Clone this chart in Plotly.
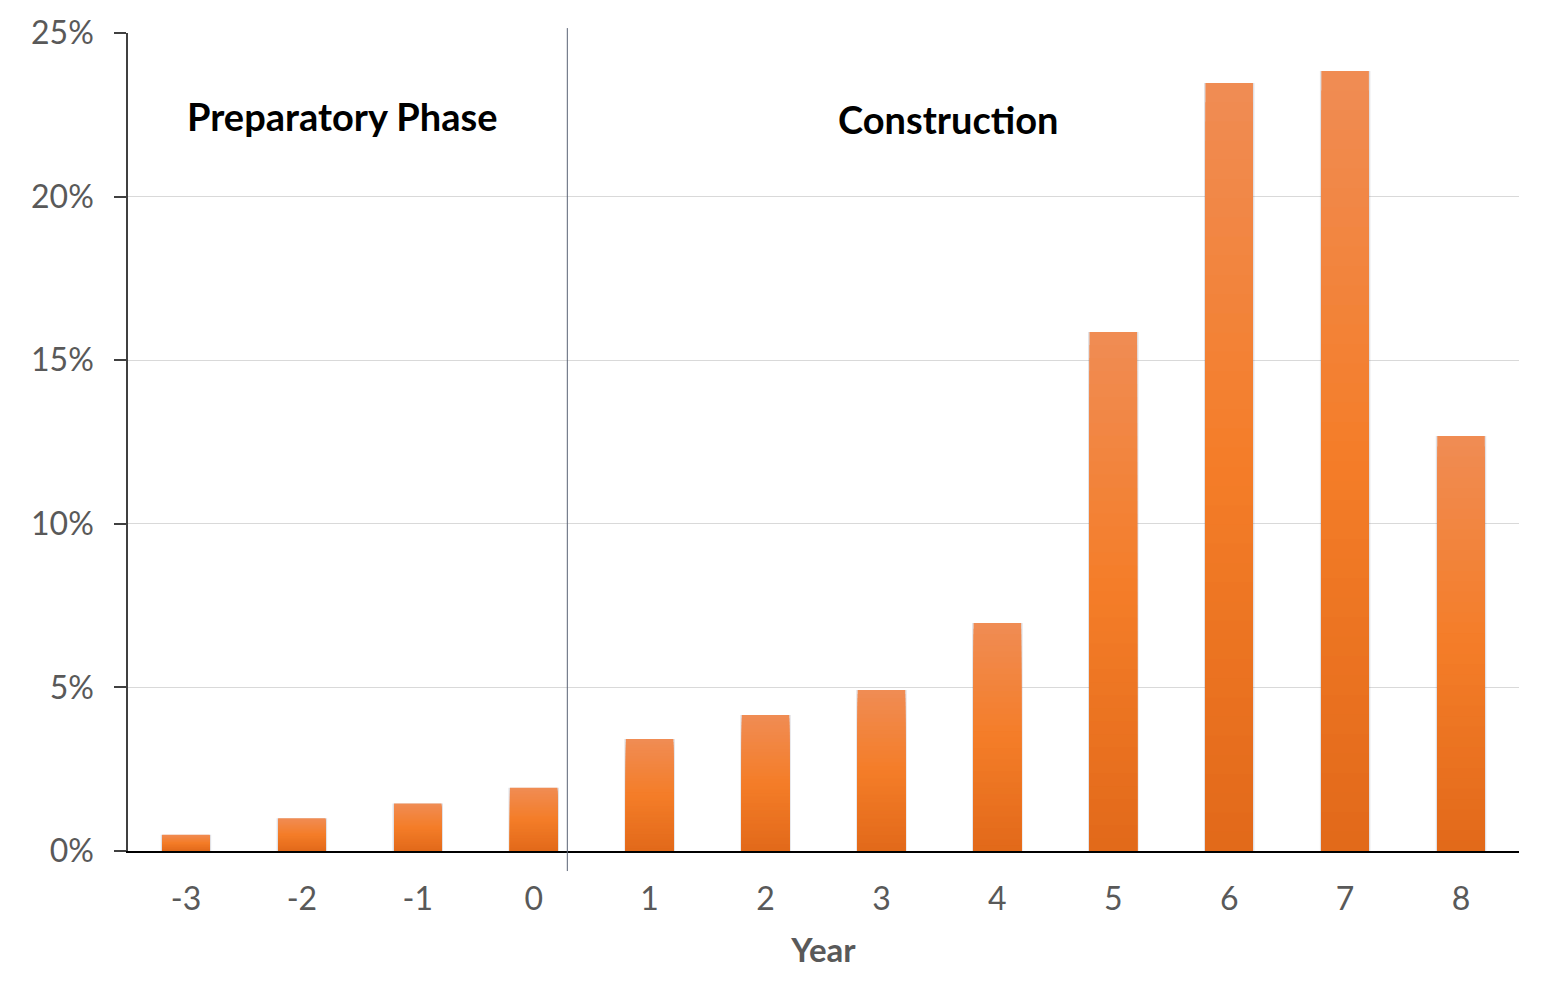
import plotly.graph_objects as go

years = [-3, -2, -1, 0, 1, 2, 3, 4, 5, 6, 7, 8]
share_pct = [0.5, 1.0, 1.45, 1.93, 3.42, 4.16, 4.92, 6.97, 15.86, 23.47, 23.84, 12.68]
y_ticks = [0, 5, 10, 15, 20, 25]
y_tick_text = ["0%", "5%", "10%", "15%", "20%", "25%"]
phase_labels = ["Preparatory Phase", "Construction"]

FONT = "Lato, Open Sans, sans-serif"
GRAY = "#595959"
BAR_W = 0.41

top_rgb = (240, 140, 84)
mid_rgb = (244, 125, 40)
bot_rgb = (226, 105, 26)


def grad_color(f):
    # f = 1 at top, 0 at bottom
    if f >= 0.5:
        t = (f - 0.5) / 0.5
        c = [mid_rgb[i] + (top_rgb[i] - mid_rgb[i]) * t for i in range(3)]
    else:
        t = f / 0.5
        c = [bot_rgb[i] + (mid_rgb[i] - bot_rgb[i]) * t for i in range(3)]
    return "rgb(%d,%d,%d)" % tuple(int(round(v)) for v in c)


fig = go.Figure()

# soft shadow behind bars
fig.add_trace(go.Bar(x=years, y=share_pct, width=BAR_W + 0.025,
                     marker=dict(color="rgba(90,90,110,0.18)", line=dict(width=0)),
                     hoverinfo="skip", showlegend=False))

N = 40
for k in range(N):
    f = 1 - k / N
    fig.add_trace(go.Bar(x=years, y=[v * f for v in share_pct], width=BAR_W,
                         marker=dict(color=grad_color(f - 0.5 / N), line=dict(width=0)),
                         hoverinfo="skip", showlegend=False))

fig.update_layout(
    barmode="overlay",
    width=1543, height=999,
    margin=dict(l=128, r=24, t=33, b=148),
    plot_bgcolor="white", paper_bgcolor="white",
    hovermode=False,
    font=dict(family=FONT, color=GRAY),
    xaxis=dict(
        tickmode="array", tickvals=years, ticktext=[str(y) for y in years],
        range=[-3.5, 8.5], showgrid=False, zeroline=False,
        showline=True, linecolor="black", linewidth=2,
        ticks="", tickfont=dict(size=32, color=GRAY, family=FONT),
        ticklabelstandoff=19,
        title=dict(text="<b>Year</b>", font=dict(size=33, color=GRAY, family=FONT), standoff=22),
    ),
    yaxis=dict(
        range=[0, 25], tickvals=y_ticks, ticktext=y_tick_text,
        showgrid=True, gridcolor="#D9D9D9", gridwidth=1.2, zeroline=False,
        showline=True, linecolor="#404040", linewidth=1.5,
        ticks="outside", ticklen=12, tickcolor="#404040", tickwidth=1.5,
        tickfont=dict(size=32, color=GRAY, family=FONT),
        ticklabelstandoff=14,
    ),
)

# phase separator
fig.add_shape(type="line", xref="x", yref="paper", x0=0.29, x1=0.29, y0=-0.0245, y1=1.006,
              line=dict(color="#5A6275", width=1))

fig.add_annotation(x=-1.654, y=22.46, xref="x", yref="y", text="<b>%s</b>" % phase_labels[0],
                   showarrow=False, font=dict(size=38, color="black", family=FONT))
fig.add_annotation(x=3.575, y=22.37, xref="x", yref="y", text="<b>%s</b>" % phase_labels[1],
                   showarrow=False, font=dict(size=38, color="black", family=FONT))

fig.write_html("out.html")
